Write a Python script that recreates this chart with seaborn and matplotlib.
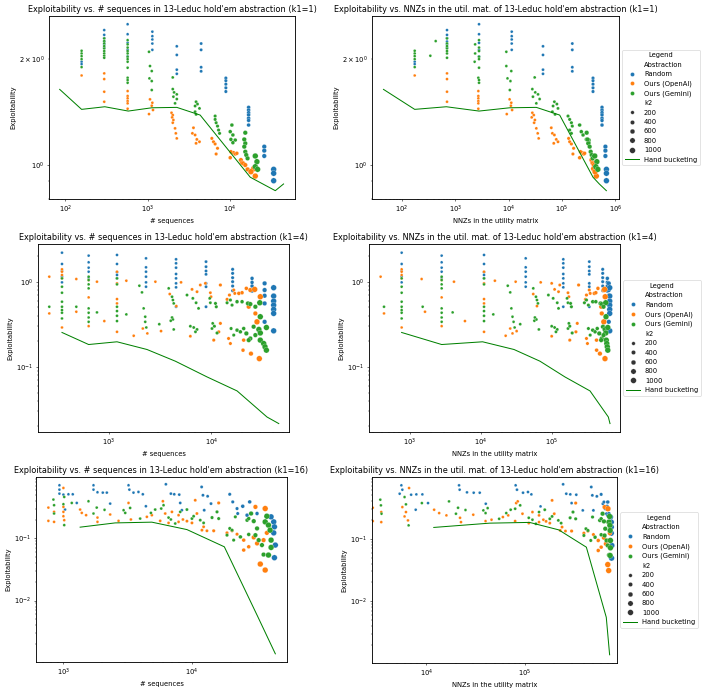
import matplotlib
matplotlib.use("Agg")
import matplotlib.pyplot as plt
import seaborn as sns
import pandas as pd

DPI = 48.5
W, H = 713, 691

HUE_ORDER = ["Random", "Ours (OpenAI)", "Ours (Gemini)"]
PALETTE = {"Random": "#1f77b4", "Ours (OpenAI)": "#ff7f0e", "Ours (Gemini)": "#2ca02c"}

# ---------------- k1 = 1 ----------------  (seq, nnz, exploitability, k2)
k1_1_random = [
    (157, 173, 1.97, 2), (157, 173, 1.94, 2),
    (296, 698, 2.425, 4), (296, 698, 2.35, 4), (296, 698, 2.30, 4), (296, 698, 2.25, 4), (296, 698, 2.21, 4), (296, 698, 2.16, 4),
    (570, 2780, 2.52, 8), (570, 2780, 2.36, 8), (570, 2780, 2.23, 8), (570, 2780, 2.13, 8), (570, 2780, 2.04, 8),
    (1140, 11400, 2.40, 16), (1140, 11400, 2.33, 16), (1140, 11400, 2.28, 16), (1140, 11400, 2.22, 16), (1140, 11400, 2.13, 16),
    (2260, 44000, 2.18, 32), (2260, 44000, 2.06, 32), (2260, 44000, 1.87, 32), (2260, 44000, 1.82, 32),
    (4470, 156000, 2.22, 64), (4470, 156000, 2.13, 64), (4470, 156000, 1.90, 64), (4470, 156000, 1.85, 64),
    (8930, 381000, 1.77, 128), (8930, 381000, 1.74, 128), (8930, 381000, 1.70, 128), (8930, 381000, 1.66, 128), (8930, 381000, 1.62, 128),
    (16900, 562000, 1.46, 256), (16900, 562000, 1.435, 256), (16900, 562000, 1.41, 256), (16900, 562000, 1.39, 256),
    (16900, 562000, 1.36, 256), (16900, 562000, 1.34, 256), (16900, 562000, 1.30, 256),
    (26200, 650000, 1.128, 512), (26200, 650000, 1.099, 512), (26200, 650000, 1.061, 512),
    (34100, 680000, 0.972, 1000), (34100, 680000, 0.947, 1000), (34100, 680000, 0.902, 1000),
]
k1_1_openai = [
    (157, 173, 1.80, 2),
    (296, 698, 1.825, 4), (296, 698, 1.758, 4), (296, 698, 1.618, 4), (296, 698, 1.515, 4),
    (570, 2700, 1.625, 8), (570, 2700, 1.573, 8), (570, 2700, 1.549, 8), (570, 2700, 1.522, 8), (570, 2700, 1.499, 8), (570, 2700, 1.447, 8),
    (1067, 10400, 1.539, 16), (1140, 11200, 1.505, 16), (1120, 11000, 1.476, 16), (1160, 11600, 1.435, 16), (1038, 9200, 1.397, 16),
    (1950, 27800, 1.409, 32), (2018, 29500, 1.388, 32), (1985, 27000, 1.367, 32), (2056, 31000, 1.344, 32),
    (2018, 30000, 1.320, 32), (2153, 33000, 1.272, 32), (2200, 35000, 1.231, 32), (2260, 36500, 1.191, 32),
    (3606, 63000, 1.277, 64), (3500, 66000, 1.231, 64), (3776, 72000, 1.218, 64), (3963, 78000, 1.183, 64), (4268, 84000, 1.165, 64), (3880, 70000, 1.153, 64),
    (6030, 133000, 1.191, 128), (6320, 139000, 1.165, 128), (6620, 150000, 1.148, 128), (7075, 165000, 1.116, 128), (6810, 160000, 1.075, 128),
    (10100, 214000, 1.049, 256), (11090, 240000, 1.084, 256), (11620, 255000, 1.075, 256), (12160, 265000, 1.080, 256), (10290, 222000, 1.091, 256),
    (13610, 355000, 1.033, 512), (14060, 370000, 1.015, 512), (14480, 381000, 1.011, 512), (15390, 395000, 1.0, 512), (16420, 410000, 0.972, 512),
    (19450, 392000, 0.976, 1000), (20380, 440000, 0.930, 1000), (18030, 416000, 0.957, 1000),
]
k1_1_gemini = [
    (157, 173, 2.117, 2), (157, 173, 2.080, 2), (157, 173, 2.044, 2), (157, 173, 2.004, 2), (157, 173, 1.902, 2),
    (296, 698, 2.296, 4), (296, 428, 2.256, 4), (296, 698, 2.222, 4), (296, 698, 2.183, 4), (296, 698, 2.149, 4),
    (296, 698, 2.113, 4), (296, 698, 2.080, 4), (296, 340, 2.049, 4), (296, 698, 2.022, 4),
    (570, 2780, 2.270, 8), (570, 2350, 2.208, 8), (570, 2780, 2.162, 8), (570, 2780, 2.113, 8), (570, 2350, 2.080, 8), (570, 2780, 2.035, 8),
    (570, 2780, 2.004, 8), (570, 2300, 1.970, 8), (570, 2780, 1.894, 8), (570, 2700, 1.773, 8), (570, 2780, 1.747, 8), (570, 2780, 1.716, 8),
    (1038, 9040, 2.103, 16), (1067, 9040, 1.915, 16), (1120, 11200, 1.853, 16), (1050, 9500, 1.766, 16), (1120, 10800, 1.735, 16), (1120, 10500, 1.636, 16),
    (2018, 30700, 1.777, 32), (2018, 27800, 1.646, 32), (2094, 31500, 1.611, 32), (2260, 35500, 1.590, 32),
    (2056, 28500, 1.566, 32), (2260, 38000, 1.542, 32), (2153, 33000, 1.499, 32),
    (3880, 72000, 1.515, 64), (4036, 80000, 1.492, 64), (3776, 68000, 1.473, 64), (4268, 84000, 1.450, 64), (3776, 66000, 1.419, 64), (3880, 74000, 1.394, 64),
    (6620, 129500, 1.379, 128), (6620, 139000, 1.349, 128), (6810, 150000, 1.320, 128), (7075, 156000, 1.291, 128), (7280, 139000, 1.258, 128), (7490, 150000, 1.231, 128),
    (10580, 214000, 1.300, 256), (10100, 230000, 1.245, 256), (10880, 248000, 1.218, 256), (10290, 286000, 1.183, 256), (11620, 321000, 1.178, 256), (10880, 321000, 1.158, 256),
    (15390, 290000, 1.236, 512), (14960, 300000, 1.183, 512), (15390, 310000, 1.153, 512), (14960, 330000, 1.128, 512),
    (15390, 345000, 1.091, 512), (15820, 360000, 1.068, 512), (16420, 375000, 1.045, 512),
    (20380, 410000, 1.061, 1000), (21340, 450000, 1.022, 1000), (20380, 430000, 0.989, 1000), (21740, 470000, 0.972, 1000),
]
k1_1_hand_seq = [85, 157, 301, 580, 1120, 2260, 4350, 17700, 35700, 45000]
k1_1_hand_nnz = [45, 173, 678, 2780, 10400, 33000, 90400, 381000, 678000, 500000]
k1_1_hand_expl = [1.643, 1.441, 1.466, 1.425, 1.456, 1.46, 1.388, 0.923, 0.845, 0.883]

# ---------------- k1 = 4 ----------------
k1_4_random = [
    (351, 763, 2.19, 2), (351, 763, 1.614, 2), (351, 763, 1.335, 2), (351, 763, 1.145, 2), (351, 763, 0.982, 2),
    (638, 2800, 2.023, 4), (638, 2800, 1.688, 4), (638, 2800, 1.461, 4), (638, 2800, 1.31, 4), (638, 2800, 1.114, 4),
    (1205, 11100, 2.06, 8), (1205, 11100, 1.614, 8), (1205, 11100, 1.288, 8), (1205, 11100, 1.198, 8), (1205, 11100, 1.094, 8),
    (2310, 43000, 1.88, 16), (2310, 43000, 1.474, 16), (2310, 43000, 1.31, 16), (2310, 43000, 1.145, 16), (2310, 43000, 0.982, 16), (2310, 43000, 0.873, 16),
    (4530, 146000, 1.831, 32), (4530, 146000, 1.643, 32), (4530, 146000, 1.461, 32), (4530, 146000, 1.231, 32),
    (4530, 146000, 1.094, 32), (4530, 146000, 0.956, 32), (4530, 146000, 0.858, 32), (4530, 146000, 0.508, 32),
    (8870, 340000, 1.72, 64), (8870, 340000, 1.50, 64), (8870, 340000, 1.335, 64), (8870, 340000, 1.22, 64),
    (8870, 340000, 0.956, 64), (8870, 340000, 0.873, 64), (8870, 340000, 0.508, 64),
    (16100, 525000, 1.397, 128), (16100, 525000, 1.253, 128), (16100, 525000, 1.114, 128), (16100, 525000, 1.0, 128), (16100, 525000, 0.889, 128), (16100, 525000, 0.784, 128),
    (24900, 611000, 1.094, 256), (24900, 611000, 0.982, 256), (24900, 611000, 0.889, 256), (24900, 611000, 0.777, 256),
    (33000, 640000, 0.956, 512), (33000, 640000, 0.798, 512), (33000, 640000, 0.684, 512), (33000, 640000, 0.556, 512), (33000, 640000, 0.338, 512),
    (40400, 660000, 0.85, 1000), (40400, 660000, 0.678, 1000), (40400, 660000, 0.592, 1000), (40400, 660000, 0.531, 1000),
    (40400, 660000, 0.473, 1000), (40400, 660000, 0.424, 1000), (40400, 660000, 0.265, 1000),
]
k1_4_openai = [
    (264, 385, 1.145, 2), (264, 430, 0.424, 2),
    (351, 763, 1.397, 2), (351, 763, 1.311, 2), (351, 763, 1.198, 2), (351, 763, 1.094, 2), (351, 763, 0.290, 2),
    (484, 1460, 1.075, 4), (484, 1630, 0.444, 4),
    (638, 2800, 1.046, 4), (638, 2800, 0.654, 4), (638, 2800, 0.301, 4),
    (769, 4180, 1.0, 8), (907, 5970, 0.345, 8),
    (1205, 11100, 1.31, 8), (1205, 11100, 0.956, 8), (1205, 11100, 0.625, 8), (1205, 11100, 0.556, 8), (1205, 11100, 0.258, 8),
    (1486, 15800, 1.027, 16), (1752, 22400, 0.232, 16), (2150, 26000, 0.282, 16), (2380, 28000, 0.247, 16),
    (2850, 31000, 1.0, 16), (3235, 32000, 0.263, 32),
    (3930, 55000, 0.716, 32), (4560, 62000, 0.517, 32), (5065, 70000, 0.982, 32),
    (6480, 110000, 0.812, 64), (7250, 125000, 0.763, 64), (7810, 130000, 0.914, 64), (6245, 100000, 0.229, 64),
    (9780, 170000, 0.742, 64), (9920, 175000, 0.666, 64), (8740, 100000, 0.956, 64),
    (12240, 240000, 0.914, 128), (12240, 230000, 0.324, 128), (11800, 220000, 0.258, 128), (10540, 180000, 0.206, 128),
    (14220, 300000, 0.62, 128), (15000, 310000, 0.697, 128), (16500, 340000, 0.798, 128), (16900, 350000, 0.729, 128),
    (18500, 400000, 0.729, 256), (19900, 420000, 0.742, 256), (21900, 450000, 0.835, 256),
    (14700, 310000, 0.2155, 128), (15320, 320000, 0.188, 128), (20630, 430000, 0.206, 256),
    (23950, 540000, 0.798, 512), (26400, 560000, 0.812, 1000), (29950, 570000, 0.666, 1000), (26800, 510000, 0.424, 512),
    (27800, 545000, 0.338, 1000), (20330, 431000, 0.157, 256), (24300, 480000, 0.143, 512), (29300, 566000, 0.125, 1000),
    (23100, 500000, 0.508, 512),
]
k1_4_gemini = [
    (264, 430, 0.508, 2),
    (351, 763, 1.094, 2), (351, 763, 0.873, 2), (351, 763, 0.742, 2), (351, 763, 0.582, 2),
    (351, 763, 0.508, 2), (351, 763, 0.464, 2), (351, 763, 0.432, 2), (351, 763, 0.370, 2),
    (484, 1510, 0.508, 4),
    (638, 2800, 1.145, 4), (638, 2800, 1.046, 4), (638, 2800, 0.930, 4), (638, 2800, 0.835, 4),
    (638, 2800, 0.486, 4), (638, 2800, 0.432, 4), (638, 2800, 0.380, 4), (638, 2800, 0.338, 4),
    (769, 4000, 0.436, 8),
    (1205, 11100, 1.094, 8), (1205, 11100, 0.930, 8), (1205, 11100, 0.508, 8), (1205, 11100, 0.452, 8), (1205, 11100, 0.398, 8), (1205, 11100, 0.345, 8),
    (1486, 15000, 0.413, 16),
    (1990, 24000, 0.897, 16), (2110, 26000, 0.749, 16), (2190, 27000, 0.486, 16), (2270, 28000, 0.388, 16),
    (2270, 29000, 0.338, 16), (2325, 30000, 0.290, 16), (3110, 36000, 0.317, 32),
    (3840, 55000, 0.835, 32), (4140, 60000, 0.666, 32), (4220, 62000, 0.609, 32), (4300, 64000, 0.556, 32),
    (4140, 58000, 0.380, 32), (4220, 61000, 0.360, 32), (4020, 57000, 0.348, 32), (4300, 66000, 0.275, 32),
    (5790, 90000, 0.697, 64), (6600, 105000, 0.637, 64), (7100, 120000, 0.566, 64), (7500, 125000, 0.486, 64),
    (6245, 100000, 0.300, 64), (6730, 110000, 0.290, 64), (7250, 120000, 0.275, 64), (7000, 115000, 0.258, 64),
    (9630, 165000, 0.637, 64), (9780, 170000, 0.566, 64), (10960, 185000, 0.556, 128), (11170, 190000, 0.508, 128),
    (10140, 170000, 0.282, 64), (10700, 180000, 0.300, 128), (11360, 195000, 0.250, 128), (10300, 175000, 0.324, 64),
    (14220, 290000, 0.566, 128), (15320, 310000, 0.609, 128), (15900, 330000, 0.531, 128),
    (17780, 380000, 0.582, 256), (19900, 420000, 0.582, 256),
    (22700, 490000, 0.556, 512), (23950, 510000, 0.546, 512),
    (29600, 580000, 0.566, 1000), (29950, 585000, 0.388, 1000), (26800, 540000, 0.508, 512),
    (15560, 330000, 0.282, 128), (17780, 380000, 0.270, 256), (19150, 410000, 0.258, 256), (16500, 350000, 0.236, 128),
    (20630, 440000, 0.282, 256), (21900, 470000, 0.247, 512), (23950, 510000, 0.2155, 512), (23100, 500000, 0.206, 512),
    (25800, 530000, 0.296, 512), (29000, 570000, 0.275, 1000), (29950, 580000, 0.250, 1000), (26800, 540000, 0.236, 512),
    (34340, 620000, 0.290, 1000),
    (29950, 590000, 0.206, 1000), (32300, 600000, 0.188, 1000), (33300, 610000, 0.172, 1000), (34340, 620000, 0.157, 1000),
]
k1_4_hand_seq = [351, 638, 1205, 2360, 4460, 9080, 17800, 34800, 45300]
k1_4_hand_nnz = [762, 2800, 10600, 29400, 68400, 154000, 348000, 631000, 666000]
k1_4_hand_expl = [0.2535, 0.183, 0.197, 0.160, 0.1166, 0.0762, 0.0522, 0.0258, 0.0216]

# ---------------- k1 = 16 ----------------
k1_16_random = [
    (931, 5570, 0.718, 4), (931, 5700, 0.611, 4), (931, 5350, 0.527, 4), (1000, 7000, 0.508, 4),
    (1094, 7910, 0.514, 4), (1182, 9110, 0.514, 4), (1270, 10400, 0.373, 4), (1030, 7790, 0.292, 4),
    (1714, 21500, 0.718, 8), (1714, 21800, 0.611, 8), (1841, 25900, 0.554, 8), (2025, 30300, 0.547, 8), (2177, 34900, 0.547, 8), (2311, 40200, 0.364, 8),
    (3210, 80900, 0.718, 16), (3260, 83500, 0.611, 16), (3509, 96200, 0.547, 16), (3836, 108000, 0.561, 16), (4148, 117000, 0.514, 16), (4382, 145000, 0.330, 16),
    (6270, 246000, 0.745, 32), (6856, 265000, 0.527, 32), (7284, 291000, 0.514, 32), (7965, 335000, 0.508, 32), (8110, 300000, 0.373, 32), (8350, 390000, 0.285, 32),
    (11890, 476000, 0.675, 64), (12180, 488000, 0.496, 64), (13240, 542000, 0.478, 64), (14070, 624000, 0.364, 64), (12460, 500000, 0.285, 64),
    (19670, 600000, 0.514, 128), (20760, 640000, 0.388, 128), (22430, 660000, 0.303, 128), (22700, 680000, 0.252, 128),
    (24840, 690000, 0.330, 256), (28140, 700000, 0.388, 256), (26840, 700000, 0.237, 256), (32100, 720000, 0.252, 256),
    (41280, 745000, 0.223, 1000), (43270, 760000, 0.185, 1000), (43830, 760000, 0.154, 1000),
    (43270, 760000, 0.123, 1000), (44550, 770000, 0.0782, 1000), (43830, 765000, 0.049, 1000),
]
k1_16_openai = [
    (764, 2850, 0.314, 2), (764, 2850, 0.192, 2), (846, 3480, 0.268, 2), (846, 3480, 0.185, 2),
    (1000, 6670, 0.650, 4), (1000, 5700, 0.322, 4), (1000, 6200, 0.268, 4), (1000, 6000, 0.228, 4), (1015, 6500, 0.197, 4),
    (1349, 12000, 0.292, 4), (1389, 13500, 0.258, 4), (1502, 16000, 0.237, 8),
    (1841, 22000, 0.217, 8), (1841, 22500, 0.185, 8), (2311, 30000, 0.243, 8), (2685, 40000, 0.192, 8),
    (3210, 82000, 0.373, 16), (3350, 46000, 0.202, 16),
    (4459, 60000, 0.223, 16), (4875, 68000, 0.237, 16), (5663, 80000, 0.192, 32), (5941, 85000, 0.397, 32),
    (6195, 95000, 0.252, 32), (6576, 110000, 0.178, 32),
    (6985, 120000, 0.268, 32), (7868, 140000, 0.237, 32), (7868, 140000, 0.185, 32), (8508, 155000, 0.202, 32), (9140, 165000, 0.190, 64),
    (10000, 180000, 0.178, 64), (10610, 190000, 0.412, 64), (10930, 200000, 0.252, 64),
    (11960, 230000, 0.136, 64), (12320, 240000, 0.154, 64), (13080, 260000, 0.133, 64), (14760, 300000, 0.133, 128), (16140, 330000, 0.373, 128),
    (18740, 400000, 0.123, 128), (20520, 440000, 0.133, 128), (22430, 500000, 0.117, 128),
    (25280, 560000, 0.065, 256), (30260, 640000, 0.104, 512), (32100, 670000, 0.0832, 512),
    (31180, 650000, 0.322, 512), (37150, 703000, 0.303, 1000),
    (34030, 700000, 0.0387, 1000), (37150, 715000, 0.031, 1000),
    (36080, 720000, 0.094, 512), (38250, 735000, 0.123, 512), (27650, 600000, 0.0735, 256), (25280, 560000, 0.094, 256),
]
k1_16_gemini = [
    (836, 3400, 0.423, 2), (846, 3450, 0.343, 2), (846, 3500, 0.252, 2),
    (1015, 6000, 0.466, 4), (1000, 6200, 0.356, 4), (1015, 6600, 0.164, 4), (1161, 9000, 0.373, 4),
    (1567, 17000, 0.397, 8), (1714, 20000, 0.252, 8), (1816, 21000, 0.314, 8), (2089, 25000, 0.289, 8),
    (2938, 38000, 0.285, 16), (3027, 40000, 0.258, 16), (3305, 42000, 0.310, 16), (3954, 55000, 0.209, 16),
    (4795, 65000, 0.258, 16), (5176, 72000, 0.292, 32), (5767, 80000, 0.303, 32), (6011, 90000, 0.343, 32),
    (6576, 110000, 0.217, 32), (6856, 120000, 0.202, 32), (7413, 130000, 0.174, 32), (8110, 140000, 0.268, 32),
    (9140, 160000, 0.292, 64), (10000, 180000, 0.209, 64), (10300, 190000, 0.228, 64), (11610, 220000, 0.197, 64), (12320, 235000, 0.178, 64),
    (14330, 290000, 0.217, 128), (15670, 310000, 0.268, 128), (16140, 330000, 0.209, 128),
    (18740, 400000, 0.113, 128), (19670, 420000, 0.145, 128), (20520, 440000, 0.136, 128), (21110, 470000, 0.094, 128), (21760, 490000, 0.223, 128),
    (23830, 520000, 0.106, 256), (26840, 580000, 0.197, 256), (27650, 600000, 0.116, 256), (27650, 600000, 0.209, 256),
    (28850, 620000, 0.252, 512), (30260, 640000, 0.190, 512), (31180, 650000, 0.113, 512), (32100, 660000, 0.145, 512),
    (33050, 680000, 0.094, 512), (35040, 700000, 0.0782, 512), (36080, 720000, 0.055, 512),
    (37150, 720000, 0.185, 1000), (38250, 730000, 0.228, 1000), (39380, 735000, 0.164, 1000), (40550, 740000, 0.136, 1000),
    (41280, 745000, 0.094, 1000), (41280, 745000, 0.0717, 1000), (39380, 740000, 0.054, 1000),
]
k1_16_hand_seq = [1349, 2527, 4875, 9140, 17870, 32500, 44550]
k1_16_hand_nnz = [11900, 44000, 112000, 222000, 424000, 676000, 731000]
k1_16_hand_expl = [0.152, 0.178, 0.183, 0.139, 0.0734, 0.00553, 0.00139]

ROWS = [
    dict(k1=1, random=k1_1_random, openai=k1_1_openai, gemini=k1_1_gemini,
         hseq=k1_1_hand_seq, hnnz=k1_1_hand_nnz, hexpl=k1_1_hand_expl,
         xlim_seq=(63, 62000), xlim_nnz=(27.4, 1.17e6), ylim=(0.80, 2.66),
         box_l=(49, 16, 295, 199), box_r=(372, 16, 619, 199)),
    dict(k1=4, random=k1_4_random, openai=k1_4_openai, gemini=k1_4_gemini,
         hseq=k1_4_hand_seq, hnnz=k1_4_hand_nnz, hexpl=k1_4_hand_expl,
         xlim_seq=(205, 57000), xlim_nnz=(264, 9.22e5), ylim=(0.0172, 2.77),
         box_l=(38, 244, 289, 432), box_r=(369, 244, 620, 432)),
    dict(k1=16, random=k1_16_random, openai=k1_16_openai, gemini=k1_16_gemini,
         hseq=k1_16_hand_seq, hnnz=k1_16_hand_nnz, hexpl=k1_16_hand_expl,
         xlim_seq=(612, 54900), xlim_nnz=(2800, 8.69e5), ylim=(0.001026, 0.976),
         box_l=(36, 477, 287, 662), box_r=(372, 477, 617, 663)),
]


def make_frame(row):
    recs = []
    for name, pts in (("Random", row["random"]), ("Ours (OpenAI)", row["openai"]), ("Ours (Gemini)", row["gemini"])):
        for seq, nnz, expl, k2 in pts:
            recs.append({"seq": seq, "nnz": nnz, "Exploitability": expl, "Abstraction": name, "k2": int(k2)})
    return pd.DataFrame(recs)


plt.rcParams["axes.linewidth"] = 1.3
fig = plt.figure(figsize=(W / DPI, H / DPI), dpi=DPI)


def add_ax(box):
    l, t, r, b = box
    return fig.add_axes([l / W, 1 - b / H, (r - l) / W, (b - t) / H])


for row in ROWS:
    df = make_frame(row)
    for side in ("seq", "nnz"):
        right = side == "nnz"
        ax = add_ax(row["box_r"] if right else row["box_l"])
        ax.set_xscale("log")
        ax.set_yscale("log")
        sns.scatterplot(data=df, x=side, y="Exploitability", hue="Abstraction", size="k2",
                        hue_order=HUE_ORDER, palette=PALETTE, sizes=(18, 72),
                        ax=ax, legend="brief" if right else False)
        hx = row["hnnz"] if right else row["hseq"]
        sns.lineplot(x=hx, y=row["hexpl"], color="green", ax=ax,
                     label="Hand bucketing" if right else None, legend=right)
        ax.set_xlim(*(row["xlim_nnz"] if right else row["xlim_seq"]))
        ax.set_ylim(*row["ylim"])
        ax.set_ylabel("Exploitability")
        if right:
            ax.set_xlabel("NNZs in the utility matrix")
            ax.set_title(f"Exploitability vs. NNZs in the util. mat. of 13-Leduc hold'em abstraction (k1={row['k1']})")
            ax.legend(title="Legend", loc="center left", bbox_to_anchor=(1.0, 0.5))
        else:
            ax.set_xlabel("# sequences")
            ax.set_title(f"Exploitability vs. # sequences in 13-Leduc hold'em abstraction (k1={row['k1']})")

fig.savefig("out.png", dpi=DPI)
